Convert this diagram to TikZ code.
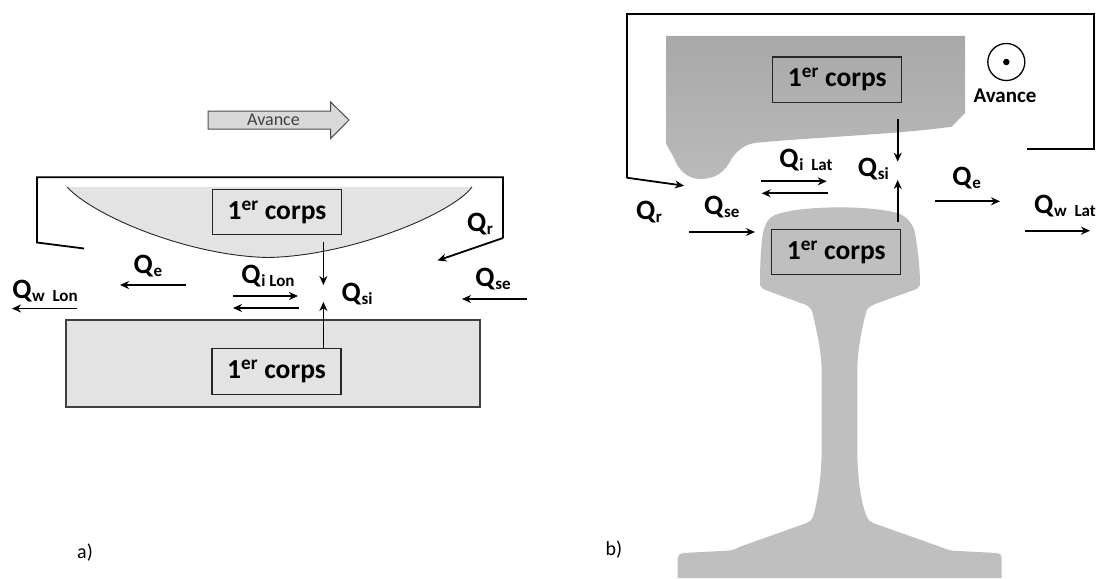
\documentclass[tikz,border=0pt]{standalone}
\usepackage{fontspec}
\setmainfont{Carlito}
\usetikzlibrary{arrows.meta}
\newcommand{\Qsub}[1]{\textbf{\fontsize{28}{28}\selectfont Q}\raisebox{-.3em}{\textbf{\fontsize{17}{17}\selectfont #1}}}
\newcommand{\corps}{\textbf{1\textsuperscript{er} corps}\hspace{7pt}}
\tikzset{
  flow/.style={draw=black,line width=1.8pt,-{Stealth[length=9pt,width=8pt]}},
  frameline/.style={draw=black,line width=1.8pt},
  corpsbox/.style={draw=black!85,line width=1.3pt,minimum width=129pt,minimum height=45.5pt,inner sep=0pt,font=\fontsize{27.5}{27.5}\selectfont},
  qlabel/.style={inner sep=0pt,anchor=center},
  caption/.style={inner sep=0pt,font=\fontsize{20}{20}\selectfont},
  lightpart/.style={fill=black!11},
  railpart/.style={fill=black!25}
}
\begin{document}
\begin{tikzpicture}[x=1pt,y=-1pt]
\useasboundingbox (0,0) rectangle (1099,578);
% ---------- a) ----------
\path[lightpart,draw=none] (67,187) -- (472,187)
  .. controls (452,214) and (350,256) .. (268,257.5)
  .. controls (190,256) and (95,217) .. (67,187) -- cycle;
\draw[black!85,line width=.9pt] (67,187)
  .. controls (95,217) and (190,256) .. (268,257.5)
  .. controls (350,256) and (452,214) .. (472,187);
\draw[lightpart,draw=black!75,line width=1.2pt] (66,320) rectangle (480,407);
\draw[fill=black!15,draw=black!70,line width=1pt] (208,111) -- (330.6,111) -- (330.6,102) -- (349,120) -- (330.6,138.6) -- (330.6,129) -- (208,129) -- cycle;
\node[inner sep=0pt,font=\fontsize{18}{18}\selectfont,text=black!75] (avA) at (273.5,120) {Avance};
\node[corpsbox] (boxAtop) at (277,212) {\corps};
\node[corpsbox] (boxAbot) at (276.5,371.5) {\corps};
\coordinate (aF1) at (84,248.5);
\coordinate (aF2) at (37,242.5);
\coordinate (aF3) at (37,177.3);
\coordinate (aF4) at (503,177.3);
\coordinate (aF5) at (503,238);
\coordinate (aF6) at (437.6,260.5);
\draw[frameline] (aF1) -- (aF2) -- (aF3) -- (aF4) -- (aF5);
\draw[flow] (aF5) -- (aF6);
\coordinate (aSiD0) at (323.4,241.5);
\coordinate (aSiD1) at (323.4,285);
\coordinate (aSiU1) at (323.4,302);
\draw[flow] (aSiD0) -- (aSiD1);
\draw[flow] (boxAbot.north -| aSiU1) -- (aSiU1);
\coordinate (aI0) at (233,296); \coordinate (aI1) at (298,296);
\coordinate (aI2) at (298.6,308); \coordinate (aI3) at (233,308);
\draw[flow] (aI0) -- (aI1);
\draw[flow] (aI2) -- (aI3);
\coordinate (aE0) at (186,285); \coordinate (aE1) at (120,285);
\draw[flow] (aE0) -- (aE1);
\coordinate (aW0) at (77,308.5); \coordinate (aW1) at (12,308.5);
\draw[flow] (aW0) -- (aW1);
\coordinate (aS0) at (527,299); \coordinate (aS1) at (462,299);
\draw[flow] (aS0) -- (aS1);
\node[qlabel] (aQr) at (480,224) {\Qsub{r}};
\node[qlabel] (aQe) at (148,266) {\Qsub{e}};
\node[qlabel] (aQi) at (268,276) {\Qsub{i Lon}};
\node[qlabel] (aQw) at (45,291) {\Qsub{w~~Lon}};
\node[qlabel] (aQse) at (493,279) {\Qsub{se}};
\node[qlabel] (aQsi) at (357,294) {\Qsub{si}};
\node[caption] (capA) at (85,553) {a)};
% ---------- b) ----------
\path[top color=black!34,bottom color=black!27,draw=none] (666,36) -- (965,36) -- (965,113) -- (951.7,126.7)
  .. controls (900,134) and (820,137) .. (756.7,142.7)
  .. controls (745,144) and (738,150) .. (732,158)
  .. controls (725,172) and (716,179) .. (700,179)
  .. controls (688,179) and (678,170) .. (674,158)
  .. controls (670,150) and (666,146) .. (666,141.7) -- cycle;
\path[railpart] (760,285)
  .. controls (760,262) and (761,245) .. (763,233)
  .. controls (765,224) and (768,218) .. (775,215)
  .. controls (800,205) and (875,205) .. (900,214)
  .. controls (908,218) and (913,224) .. (915,233)
  .. controls (918,250) and (920,268) .. (920,285)
  -- (916.7,289) -- (875,304)
  .. controls (870,306) and (868,308) .. (866.7,310)
  .. controls (860,335) and (857.3,355) .. (857.3,373)
  -- (857.3,446.7)
  .. controls (857.3,475) and (860,500) .. (866.7,516.7)
  .. controls (868,520) and (870,522) .. (873,523)
  -- (940,546.7)
  .. controls (945,549) and (950,550.5) .. (953,550.7)
  -- (996.7,553)
  .. controls (1000,553.5) and (1001.7,555) .. (1001.7,558)
  -- (1001.7,578) -- (677.7,578) -- (677.7,558)
  .. controls (677.7,555) and (680,553.5) .. (683,553)
  -- (726.7,550.7)
  .. controls (732,550.5) and (736,549) .. (740,546.7)
  -- (806.7,523)
  .. controls (810,522) and (812,520) .. (813,516.7)
  .. controls (818,500) and (821.7,475) .. (821.7,446.7)
  -- (821.7,373)
  .. controls (821.7,355) and (818,335) .. (811.7,310)
  .. controls (810,307) and (807,305) .. (803.3,304)
  -- (763,289) -- cycle;
\node[corpsbox] (boxBtop) at (837.3,79.8) {\corps};
\node[corpsbox] (boxBbot) at (836.3,252) {\corps};
\coordinate (bF1) at (1027,149);
\coordinate (bF2) at (1094,149);
\coordinate (bF3) at (1094,14);
\coordinate (bF4) at (626.7,14);
\coordinate (bF5) at (626.7,177.7);
\coordinate (bF6) at (684,185.7);
\draw[frameline] (bF1) -- (bF2) -- (bF3) -- (bF4) -- (bF5);
\draw[flow] (bF5) -- (bF6);
\coordinate (bD0) at (897.7,119); \coordinate (bD1) at (897.7,161.7);
\coordinate (bU1) at (897.7,180);
\draw[flow] (bD0) -- (bD1);
\draw[flow] (boxBbot.north -| bU1) ++(0,-6.5) -- (bU1);
\coordinate (bI0) at (761,181.3); \coordinate (bI1) at (826.7,181.3);
\coordinate (bI2) at (827.7,193.3); \coordinate (bI3) at (761.7,193.3);
\draw[flow] (bI0) -- (bI1);
\draw[flow] (bI2) -- (bI3);
\coordinate (bS0) at (689.3,232); \coordinate (bS1) at (755,232);
\draw[flow] (bS0) -- (bS1);
\coordinate (bE0) at (935,201.3); \coordinate (bE1) at (1000,201.3);
\draw[flow] (bE0) -- (bE1);
\coordinate (bW0) at (1025,230.7); \coordinate (bW1) at (1090,230.7);
\draw[flow] (bW0) -- (bW1);
\node[qlabel] (bQr) at (649,212) {\Qsub{r}};
\node[qlabel] (bQse) at (721.7,207) {\Qsub{se}};
\node[qlabel] (bQi) at (806,160) {\Qsub{i~~Lat}};
\node[qlabel] (bQsi) at (873.3,169) {\Qsub{si}};
\node[qlabel] (bQe) at (966.7,178) {\Qsub{e}};
\node[qlabel] (bQw) at (1065,206) {\Qsub{w~~Lat}};
\node[inner sep=0pt,font=\fontsize{21}{21}\selectfont\bfseries] (avB) at (1005,95.7) {Avance};
\node[circle,draw=black,line width=1.3pt,minimum size=37pt,inner sep=0pt] (circB) at (1006.3,62) {};
\node[circle,fill=black,minimum size=6.5pt,inner sep=0pt] (dotB) at (circB.center) {};
\node[caption] (capB) at (614,550) {b)};
\end{tikzpicture}
\end{document}
